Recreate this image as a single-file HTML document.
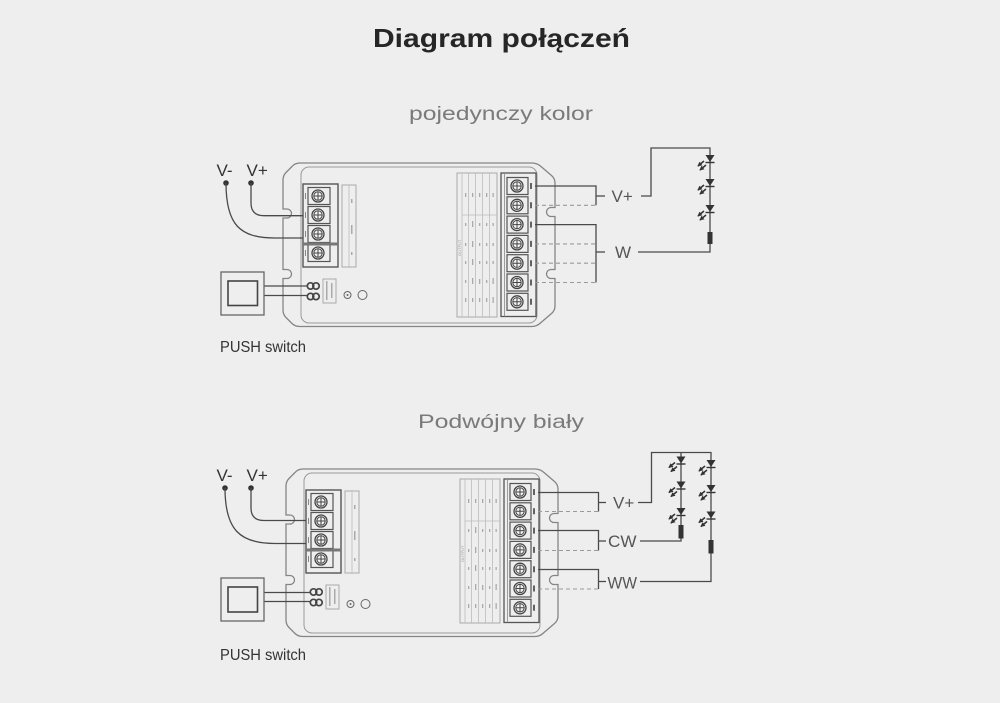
<!DOCTYPE html>
<html>
<head>
<meta charset="utf-8">
<style>
html,body{margin:0;padding:0;background:#eeeeee;}
body{width:1000px;height:703px;overflow:hidden;}
svg{display:block;}
</style>
</head>
<body>
<svg width="1000" height="703" viewBox="0 0 1000 703" xmlns="http://www.w3.org/2000/svg">
<defs>
<marker id="ah" viewBox="0 0 6 6" refX="5" refY="3" markerWidth="3.2" markerHeight="3.2" orient="auto"><path d="M0,0 L6,3 L0,6 Z" fill="#333"/></marker>
</defs>
<rect x="0" y="0" width="1000" height="703" fill="#eeeeee"/>

<!-- Titles -->
<text x="501.5" y="47" text-anchor="middle" font-family="'Liberation Sans', sans-serif" font-weight="bold" font-size="26" fill="#262626" textLength="257" lengthAdjust="spacingAndGlyphs">Diagram połączeń</text>
<text x="501" y="120" text-anchor="middle" font-family="'Liberation Sans', sans-serif" font-size="19" fill="#7a7a7a" textLength="184" lengthAdjust="spacingAndGlyphs">pojedynczy kolor</text>
<text x="501" y="428" text-anchor="middle" font-family="'Liberation Sans', sans-serif" font-size="19" fill="#7a7a7a" textLength="166" lengthAdjust="spacingAndGlyphs">Podwójny biały</text>

<!-- ===================== DIAGRAM 1 ===================== -->
<g id="dev1">
<path d="M300,163 L532,163 Q537,163 541,166.5 L551.5,175.5 Q555,178.5 555,183 L555,207.5 L551,207.5 A4.5,4.5 0 0 0 551,216.5 L555,216.5 L555,269.5 L551,269.5 A4.5,4.5 0 0 0 551,278.5 L555,278.5 L555,306 Q555,310.5 551.5,313.5 L541,322.5 Q537,326.5 532,326.5 L300,326.5 Q295,326.5 292,323.5 L286,317.5 Q283,314.5 283,310 L283,278.5 L287,278.5 A4.5,4.5 0 0 0 287,269.5 L283,269.5 L283,218 L287,218 A4.5,4.5 0 0 0 287,209 L283,209 L283,180 Q283,175.5 286,172.5 L292,166.5 Q295,163 300,163 Z" fill="none" stroke="#858585" stroke-width="1.3"/>
<rect x="301" y="167" width="236" height="156" rx="8" fill="none" stroke="#999" stroke-width="1"/>

<rect x="303" y="184" width="35" height="83" fill="none" stroke="#555" stroke-width="1.4"/>
<g stroke="#555" fill="none" stroke-width="1.2">
<rect x="308" y="187.5" width="22" height="17"/>
<rect x="308" y="206.5" width="22" height="17"/>
<rect x="308" y="225.5" width="22" height="17"/>
<rect x="308" y="244.5" width="22" height="17"/>
</g>
<rect x="303" y="242.5" width="35" height="3" fill="#777"/>
<g stroke="#444" fill="#f3f3f3" stroke-width="1.3">
<circle cx="318" cy="196" r="6"/><circle cx="318" cy="215" r="6"/><circle cx="318" cy="234" r="6"/><circle cx="318" cy="253" r="6"/>
</g>
<g stroke="#444" stroke-width="1" fill="none">
<circle cx="318" cy="196" r="4.2"/><circle cx="318" cy="215" r="4.2"/><circle cx="318" cy="234" r="4.2"/><circle cx="318" cy="253" r="4.2"/>
<path d="M314,196 H322 M318,192 V200 M314,215 H322 M318,211 V219 M314,234 H322 M318,230 V238 M314,253 H322 M318,249 V257"/>
<path d="M305.5,193 V199 M305.5,212 V218 M305.5,231 V237 M305.5,250 V256" stroke="#888"/>
</g>
<rect x="342" y="185" width="14" height="82" fill="none" stroke="#aaa" stroke-width="1"/>
<line x1="349" y1="185" x2="349" y2="267" stroke="#bbb" stroke-width="0.8"/>
<g fill="#aaa"><rect x="351" y="199" width="1.5" height="4"/><rect x="351" y="225" width="1.5" height="9"/><rect x="351" y="252" width="1.5" height="3"/></g>

<g stroke="#444" stroke-width="1.7" fill="none">
<circle cx="310.5" cy="286" r="3.2"/><circle cx="316" cy="286" r="3.2"/>
<circle cx="310.5" cy="296.5" r="3.2"/><circle cx="316" cy="296.5" r="3.2"/>
</g>
<rect x="323" y="279" width="13" height="24" fill="none" stroke="#aaa" stroke-width="1"/>
<g fill="#aaa"><rect x="326" y="281" width="1.5" height="19"/><rect x="331" y="283" width="1.5" height="15"/></g>
<circle cx="347.5" cy="295" r="3.5" fill="none" stroke="#666" stroke-width="1"/>
<circle cx="347.5" cy="295" r="1" fill="#666"/>
<circle cx="362.5" cy="295" r="4.5" fill="none" stroke="#666" stroke-width="1"/>

<rect x="457" y="173" width="40" height="144" fill="none" stroke="#aaa" stroke-width="1"/>
<g stroke="#bbb" stroke-width="0.8">
<line x1="462" y1="173" x2="462" y2="317"/><line x1="468.5" y1="173" x2="468.5" y2="317"/><line x1="475.5" y1="173" x2="475.5" y2="317"/><line x1="482.5" y1="173" x2="482.5" y2="317"/><line x1="489.5" y1="173" x2="489.5" y2="317"/>
<line x1="462" y1="215" x2="497" y2="215"/>
</g>
<text x="0" y="0" transform="translate(461,256) rotate(-90)" font-family="'Liberation Sans', sans-serif" font-size="4" fill="#999">OUTPUT</text>
<g fill="#aaa">
<rect x="465" y="193" width="1.3" height="4"/><rect x="472" y="193" width="1.3" height="4"/><rect x="479" y="193" width="1.3" height="4"/><rect x="486" y="193" width="1.3" height="4"/><rect x="492.5" y="193" width="1.3" height="4"/>
<rect x="465" y="223" width="1.3" height="3"/><rect x="472" y="221" width="1.3" height="6"/><rect x="479" y="223" width="1.3" height="3"/><rect x="486" y="223" width="1.3" height="3"/><rect x="492.5" y="223" width="1.3" height="3"/>
<rect x="465" y="243" width="1.3" height="3"/><rect x="472" y="241" width="1.3" height="6"/><rect x="479" y="243" width="1.3" height="3"/><rect x="486" y="243" width="1.3" height="3"/><rect x="492.5" y="243" width="1.3" height="3"/>
<rect x="465" y="261" width="1.3" height="3"/><rect x="472" y="259" width="1.3" height="6"/><rect x="479" y="261" width="1.3" height="3"/><rect x="486" y="261" width="1.3" height="3"/><rect x="492.5" y="261" width="1.3" height="3"/>
<rect x="465" y="280" width="1.3" height="3"/><rect x="472" y="278" width="1.3" height="6"/><rect x="479" y="279" width="1.3" height="5"/><rect x="486" y="280" width="1.3" height="3"/><rect x="492.5" y="278" width="1.3" height="6"/>
<rect x="465" y="298" width="1.3" height="4"/><rect x="472" y="298" width="1.3" height="4"/><rect x="479" y="298" width="1.3" height="4"/><rect x="486" y="298" width="1.3" height="4"/><rect x="492.5" y="297" width="1.3" height="6"/>
</g>

<rect x="501" y="173" width="35" height="143.5" fill="none" stroke="#555" stroke-width="1.3"/>
<line x1="504.5" y1="173" x2="504.5" y2="316.5" stroke="#888" stroke-width="0.8"/>
<g stroke="#555" fill="none" stroke-width="1.2">
<rect x="507" y="177.5" width="21" height="17"/><rect x="507" y="196.8" width="21" height="17"/><rect x="507" y="216.1" width="21" height="17"/><rect x="507" y="235.4" width="21" height="17"/><rect x="507" y="254.7" width="21" height="17"/><rect x="507" y="274" width="21" height="17"/><rect x="507" y="293.3" width="21" height="17"/>
</g>
<g stroke="#444" fill="#f3f3f3" stroke-width="1.3">
<circle cx="517" cy="186" r="6"/><circle cx="517" cy="205.3" r="6"/><circle cx="517" cy="224.6" r="6"/><circle cx="517" cy="243.9" r="6"/><circle cx="517" cy="263.2" r="6"/><circle cx="517" cy="282.5" r="6"/><circle cx="517" cy="301.8" r="6"/>
</g>
<g stroke="#444" stroke-width="1" fill="none">
<circle cx="517" cy="186" r="4.2"/><circle cx="517" cy="205.3" r="4.2"/><circle cx="517" cy="224.6" r="4.2"/><circle cx="517" cy="243.9" r="4.2"/><circle cx="517" cy="263.2" r="4.2"/><circle cx="517" cy="282.5" r="4.2"/><circle cx="517" cy="301.8" r="4.2"/>
<path d="M513,186 H521 M517,182 V190 M513,205.3 H521 M517,201.3 V209.3 M513,224.6 H521 M517,220.6 V228.6 M513,243.9 H521 M517,239.9 V247.9 M513,263.2 H521 M517,259.2 V267.2 M513,282.5 H521 M517,278.5 V286.5 M513,301.8 H521 M517,297.8 V305.8"/>
</g>
<g stroke="#333" stroke-width="1.5">
<path d="M531,183 V189 M531,202.3 V208.3 M531,221.6 V227.6 M531,240.9 V246.9 M531,260.2 V266.2 M531,279.5 V285.5 M531,298.8 V304.8"/>
</g>
</g>

<!-- D1 external wiring -->
<text x="216.5" y="176" font-family="'Liberation Sans', sans-serif" font-size="17" fill="#333">V-</text>
<text x="246.5" y="176" font-family="'Liberation Sans', sans-serif" font-size="17" fill="#333">V+</text>
<circle cx="226" cy="183" r="2.8" fill="#333"/>
<circle cx="251" cy="183" r="2.8" fill="#333"/>
<g stroke="#4a4a4a" stroke-width="1.3" fill="none">
<path d="M251,183 L251,203 Q251,215.7 264,215.7 L303,215.7"/>
<path d="M226,183 C226,225 240,238 275,238 L303,238"/>
<path d="M264,286 L307,286 M264,295.5 L307,295.5"/>
</g>
<rect x="221" y="272" width="43" height="43" fill="none" stroke="#666" stroke-width="1.3"/>
<rect x="228" y="281" width="29.5" height="24.5" fill="none" stroke="#444" stroke-width="1.6"/>
<text x="220" y="352" font-family="'Liberation Sans', sans-serif" font-size="15.5" fill="#333" textLength="86" lengthAdjust="spacingAndGlyphs">PUSH switch</text>

<g stroke="#4a4a4a" stroke-width="1.3" fill="none">
<path d="M535,186 L596,186 L596,205.3"/>
<path d="M596,196 L605,196"/>
<path d="M641,196 L651,196 L651,148 L710,148 L710,252 L638,252"/>
<path d="M535,224.6 L596,224.6 L596,282.5"/>
<path d="M596,252 L605,252"/>
</g>
<g stroke="#9a9a9a" stroke-width="1.1" stroke-dasharray="4,3" fill="none">
<path d="M535,205.3 L596,205.3 M535,243.9 L596,243.9 M535,263.2 L596,263.2 M535,282.5 L596,282.5"/>
</g>
<text x="611.5" y="202" font-family="'Liberation Sans', sans-serif" font-size="17" fill="#555">V+</text>
<text x="615" y="258" font-family="'Liberation Sans', sans-serif" font-size="17" fill="#555">W</text>

<!-- D1 LEDs -->
<g transform="translate(710,155)">
<path d="M-4.5,0 L4.5,0 L0,7 Z" fill="#333"/><line x1="-4.5" y1="7.5" x2="4.5" y2="7.5" stroke="#333" stroke-width="1.4"/>
<line x1="-6" y1="6" x2="-12" y2="11" stroke="#333" stroke-width="1.5" marker-end="url(#ah)"/><line x1="-4" y1="10" x2="-10" y2="15" stroke="#333" stroke-width="1.5" marker-end="url(#ah)"/>
</g>
<g transform="translate(710,179)">
<path d="M-4.5,0 L4.5,0 L0,7 Z" fill="#333"/><line x1="-4.5" y1="7.5" x2="4.5" y2="7.5" stroke="#333" stroke-width="1.4"/>
<line x1="-6" y1="6" x2="-12" y2="11" stroke="#333" stroke-width="1.5" marker-end="url(#ah)"/><line x1="-4" y1="10" x2="-10" y2="15" stroke="#333" stroke-width="1.5" marker-end="url(#ah)"/>
</g>
<g transform="translate(710,205)">
<path d="M-4.5,0 L4.5,0 L0,7 Z" fill="#333"/><line x1="-4.5" y1="7.5" x2="4.5" y2="7.5" stroke="#333" stroke-width="1.4"/>
<line x1="-6" y1="6" x2="-12" y2="11" stroke="#333" stroke-width="1.5" marker-end="url(#ah)"/><line x1="-4" y1="10" x2="-10" y2="15" stroke="#333" stroke-width="1.5" marker-end="url(#ah)"/>
</g>
<rect x="707.5" y="232" width="5" height="12" fill="#333"/>

<!-- ===================== DIAGRAM 2 ===================== -->
<g transform="translate(3,306)">
<path d="M300,163 L532,163 Q537,163 541,166.5 L551.5,175.5 Q555,178.5 555,183 L555,207.5 L551,207.5 A4.5,4.5 0 0 0 551,216.5 L555,216.5 L555,269.5 L551,269.5 A4.5,4.5 0 0 0 551,278.5 L555,278.5 L555,310 Q555,314.5 551.5,317.5 L541,326.5 Q537,330.5 532,330.5 L300,330.5 Q295,330.5 292,327.5 L286,321.5 Q283,318.5 283,314 L283,278.5 L287,278.5 A4.5,4.5 0 0 0 287,269.5 L283,269.5 L283,218 L287,218 A4.5,4.5 0 0 0 287,209 L283,209 L283,180 Q283,175.5 286,172.5 L292,166.5 Q295,163 300,163 Z" fill="none" stroke="#858585" stroke-width="1.3"/>
<rect x="301" y="167" width="236" height="160" rx="8" fill="none" stroke="#999" stroke-width="1"/>

<rect x="303" y="184" width="35" height="83" fill="none" stroke="#555" stroke-width="1.4"/>
<g stroke="#555" fill="none" stroke-width="1.2">
<rect x="308" y="187.5" width="22" height="17"/>
<rect x="308" y="206.5" width="22" height="17"/>
<rect x="308" y="225.5" width="22" height="17"/>
<rect x="308" y="244.5" width="22" height="17"/>
</g>
<rect x="303" y="242.5" width="35" height="3" fill="#777"/>
<g stroke="#444" fill="#f3f3f3" stroke-width="1.3">
<circle cx="318" cy="196" r="6"/><circle cx="318" cy="215" r="6"/><circle cx="318" cy="234" r="6"/><circle cx="318" cy="253" r="6"/>
</g>
<g stroke="#444" stroke-width="1" fill="none">
<circle cx="318" cy="196" r="4.2"/><circle cx="318" cy="215" r="4.2"/><circle cx="318" cy="234" r="4.2"/><circle cx="318" cy="253" r="4.2"/>
<path d="M314,196 H322 M318,192 V200 M314,215 H322 M318,211 V219 M314,234 H322 M318,230 V238 M314,253 H322 M318,249 V257"/>
<path d="M305.5,193 V199 M305.5,212 V218 M305.5,231 V237 M305.5,250 V256" stroke="#888"/>
</g>
<rect x="342" y="185" width="14" height="82" fill="none" stroke="#aaa" stroke-width="1"/>
<line x1="349" y1="185" x2="349" y2="267" stroke="#bbb" stroke-width="0.8"/>
<g fill="#aaa"><rect x="351" y="199" width="1.5" height="4"/><rect x="351" y="225" width="1.5" height="9"/><rect x="351" y="252" width="1.5" height="3"/></g>

<g stroke="#444" stroke-width="1.7" fill="none">
<circle cx="310.5" cy="286" r="3.2"/><circle cx="316" cy="286" r="3.2"/>
<circle cx="310.5" cy="296.5" r="3.2"/><circle cx="316" cy="296.5" r="3.2"/>
</g>
<rect x="323" y="279" width="13" height="24" fill="none" stroke="#aaa" stroke-width="1"/>
<g fill="#aaa"><rect x="326" y="281" width="1.5" height="19"/><rect x="331" y="283" width="1.5" height="15"/></g>
<circle cx="347.5" cy="298" r="3.5" fill="none" stroke="#666" stroke-width="1"/>
<circle cx="347.5" cy="298" r="1" fill="#666"/>
<circle cx="362.5" cy="298" r="4.5" fill="none" stroke="#666" stroke-width="1"/>

<rect x="457" y="173" width="40" height="144" fill="none" stroke="#aaa" stroke-width="1"/>
<g stroke="#bbb" stroke-width="0.8">
<line x1="462" y1="173" x2="462" y2="317"/><line x1="468.5" y1="173" x2="468.5" y2="317"/><line x1="475.5" y1="173" x2="475.5" y2="317"/><line x1="482.5" y1="173" x2="482.5" y2="317"/><line x1="489.5" y1="173" x2="489.5" y2="317"/>
<line x1="462" y1="215" x2="497" y2="215"/>
</g>
<text x="0" y="0" transform="translate(461,256) rotate(-90)" font-family="'Liberation Sans', sans-serif" font-size="4" fill="#999">OUTPUT</text>
<g fill="#aaa">
<rect x="465" y="193" width="1.3" height="4"/><rect x="472" y="193" width="1.3" height="4"/><rect x="479" y="193" width="1.3" height="4"/><rect x="486" y="193" width="1.3" height="4"/><rect x="492.5" y="193" width="1.3" height="4"/>
<rect x="465" y="223" width="1.3" height="3"/><rect x="472" y="221" width="1.3" height="6"/><rect x="479" y="223" width="1.3" height="3"/><rect x="486" y="223" width="1.3" height="3"/><rect x="492.5" y="223" width="1.3" height="3"/>
<rect x="465" y="243" width="1.3" height="3"/><rect x="472" y="241" width="1.3" height="6"/><rect x="479" y="243" width="1.3" height="3"/><rect x="486" y="243" width="1.3" height="3"/><rect x="492.5" y="243" width="1.3" height="3"/>
<rect x="465" y="261" width="1.3" height="3"/><rect x="472" y="259" width="1.3" height="6"/><rect x="479" y="261" width="1.3" height="3"/><rect x="486" y="261" width="1.3" height="3"/><rect x="492.5" y="261" width="1.3" height="3"/>
<rect x="465" y="280" width="1.3" height="3"/><rect x="472" y="278" width="1.3" height="6"/><rect x="479" y="279" width="1.3" height="5"/><rect x="486" y="280" width="1.3" height="3"/><rect x="492.5" y="278" width="1.3" height="6"/>
<rect x="465" y="298" width="1.3" height="4"/><rect x="472" y="298" width="1.3" height="4"/><rect x="479" y="298" width="1.3" height="4"/><rect x="486" y="298" width="1.3" height="4"/><rect x="492.5" y="297" width="1.3" height="6"/>
</g>

<rect x="501" y="173" width="35" height="143.5" fill="none" stroke="#555" stroke-width="1.3"/>
<line x1="504.5" y1="173" x2="504.5" y2="316.5" stroke="#888" stroke-width="0.8"/>
<g stroke="#555" fill="none" stroke-width="1.2">
<rect x="507" y="177.5" width="21" height="17"/><rect x="507" y="196.8" width="21" height="17"/><rect x="507" y="216.1" width="21" height="17"/><rect x="507" y="235.4" width="21" height="17"/><rect x="507" y="254.7" width="21" height="17"/><rect x="507" y="274" width="21" height="17"/><rect x="507" y="293.3" width="21" height="17"/>
</g>
<g stroke="#444" fill="#f3f3f3" stroke-width="1.3">
<circle cx="517" cy="186" r="6"/><circle cx="517" cy="205.3" r="6"/><circle cx="517" cy="224.6" r="6"/><circle cx="517" cy="243.9" r="6"/><circle cx="517" cy="263.2" r="6"/><circle cx="517" cy="282.5" r="6"/><circle cx="517" cy="301.8" r="6"/>
</g>
<g stroke="#444" stroke-width="1" fill="none">
<circle cx="517" cy="186" r="4.2"/><circle cx="517" cy="205.3" r="4.2"/><circle cx="517" cy="224.6" r="4.2"/><circle cx="517" cy="243.9" r="4.2"/><circle cx="517" cy="263.2" r="4.2"/><circle cx="517" cy="282.5" r="4.2"/><circle cx="517" cy="301.8" r="4.2"/>
<path d="M513,186 H521 M517,182 V190 M513,205.3 H521 M517,201.3 V209.3 M513,224.6 H521 M517,220.6 V228.6 M513,243.9 H521 M517,239.9 V247.9 M513,263.2 H521 M517,259.2 V267.2 M513,282.5 H521 M517,278.5 V286.5 M513,301.8 H521 M517,297.8 V305.8"/>
</g>
<g stroke="#333" stroke-width="1.5">
<path d="M531,183 V189 M531,202.3 V208.3 M531,221.6 V227.6 M531,240.9 V246.9 M531,260.2 V266.2 M531,279.5 V285.5 M531,298.8 V304.8"/>
</g>
</g>

<!-- D2 external wiring -->
<text x="216.5" y="481" font-family="'Liberation Sans', sans-serif" font-size="17" fill="#333">V-</text>
<text x="246.5" y="481" font-family="'Liberation Sans', sans-serif" font-size="17" fill="#333">V+</text>
<circle cx="225" cy="488" r="2.8" fill="#333"/>
<circle cx="251" cy="488" r="2.8" fill="#333"/>
<g stroke="#4a4a4a" stroke-width="1.3" fill="none">
<path d="M251,488 L251,508 Q251,520.5 264,520.5 L306,520.5"/>
<path d="M225,488 C225,530 240,543.5 275,543.5 L306,543.5"/>
<path d="M264,592.5 L310,592.5 M264,601.5 L310,601.5"/>
</g>
<rect x="221" y="578" width="43" height="43" fill="none" stroke="#666" stroke-width="1.3"/>
<rect x="228" y="587" width="29.5" height="25" fill="none" stroke="#444" stroke-width="1.6"/>
<text x="220" y="660" font-family="'Liberation Sans', sans-serif" font-size="15.5" fill="#333" textLength="86" lengthAdjust="spacingAndGlyphs">PUSH switch</text>

<g stroke="#4a4a4a" stroke-width="1.3" fill="none">
<path d="M538,492.5 L598.5,492.5 L598.5,511.5"/>
<path d="M598.5,502.5 L606,502.5"/>
<path d="M638,502.5 L651.5,502.5 L651.5,452.5 L711,452.5 L711,581.5 L640,581.5"/>
<path d="M681,452.5 L681,541 L640,541"/>
<path d="M538,530.5 L598.5,530.5 L598.5,550.5"/>
<path d="M598.5,541 L606,541"/>
<path d="M538,569.5 L598.5,569.5 L598.5,589"/>
<path d="M598.5,581.5 L606,581.5"/>
</g>
<g stroke="#9a9a9a" stroke-width="1.1" stroke-dasharray="4,3" fill="none">
<path d="M538,511.5 L598.5,511.5 M538,550.5 L598.5,550.5 M538,589 L598.5,589"/>
</g>
<text x="613" y="508.5" font-family="'Liberation Sans', sans-serif" font-size="17" fill="#555">V+</text>
<text x="608" y="547" font-family="'Liberation Sans', sans-serif" font-size="17" fill="#555" textLength="28.5" lengthAdjust="spacingAndGlyphs">CW</text>
<text x="607.5" y="588.5" font-family="'Liberation Sans', sans-serif" font-size="17" fill="#555" textLength="29.5" lengthAdjust="spacingAndGlyphs">WW</text>

<!-- D2 LEDs chain 1 -->
<g transform="translate(681,456.5)">
<path d="M-4.5,0 L4.5,0 L0,7 Z" fill="#333"/><line x1="-4.5" y1="7.5" x2="4.5" y2="7.5" stroke="#333" stroke-width="1.4"/>
<line x1="-6" y1="6" x2="-12" y2="11" stroke="#333" stroke-width="1.5" marker-end="url(#ah)"/><line x1="-4" y1="10" x2="-10" y2="15" stroke="#333" stroke-width="1.5" marker-end="url(#ah)"/>
</g>
<g transform="translate(681,481.5)">
<path d="M-4.5,0 L4.5,0 L0,7 Z" fill="#333"/><line x1="-4.5" y1="7.5" x2="4.5" y2="7.5" stroke="#333" stroke-width="1.4"/>
<line x1="-6" y1="6" x2="-12" y2="11" stroke="#333" stroke-width="1.5" marker-end="url(#ah)"/><line x1="-4" y1="10" x2="-10" y2="15" stroke="#333" stroke-width="1.5" marker-end="url(#ah)"/>
</g>
<g transform="translate(681,508)">
<path d="M-4.5,0 L4.5,0 L0,7 Z" fill="#333"/><line x1="-4.5" y1="7.5" x2="4.5" y2="7.5" stroke="#333" stroke-width="1.4"/>
<line x1="-6" y1="6" x2="-12" y2="11" stroke="#333" stroke-width="1.5" marker-end="url(#ah)"/><line x1="-4" y1="10" x2="-10" y2="15" stroke="#333" stroke-width="1.5" marker-end="url(#ah)"/>
</g>
<rect x="678.5" y="525" width="5" height="13.5" fill="#333"/>

<!-- D2 LEDs chain 2 -->
<g transform="translate(711,460)">
<path d="M-4.5,0 L4.5,0 L0,7 Z" fill="#333"/><line x1="-4.5" y1="7.5" x2="4.5" y2="7.5" stroke="#333" stroke-width="1.4"/>
<line x1="-6" y1="6" x2="-12" y2="11" stroke="#333" stroke-width="1.5" marker-end="url(#ah)"/><line x1="-4" y1="10" x2="-10" y2="15" stroke="#333" stroke-width="1.5" marker-end="url(#ah)"/>
</g>
<g transform="translate(711,485)">
<path d="M-4.5,0 L4.5,0 L0,7 Z" fill="#333"/><line x1="-4.5" y1="7.5" x2="4.5" y2="7.5" stroke="#333" stroke-width="1.4"/>
<line x1="-6" y1="6" x2="-12" y2="11" stroke="#333" stroke-width="1.5" marker-end="url(#ah)"/><line x1="-4" y1="10" x2="-10" y2="15" stroke="#333" stroke-width="1.5" marker-end="url(#ah)"/>
</g>
<g transform="translate(711,511.5)">
<path d="M-4.5,0 L4.5,0 L0,7 Z" fill="#333"/><line x1="-4.5" y1="7.5" x2="4.5" y2="7.5" stroke="#333" stroke-width="1.4"/>
<line x1="-6" y1="6" x2="-12" y2="11" stroke="#333" stroke-width="1.5" marker-end="url(#ah)"/><line x1="-4" y1="10" x2="-10" y2="15" stroke="#333" stroke-width="1.5" marker-end="url(#ah)"/>
</g>
<rect x="708.5" y="540" width="5" height="13.5" fill="#333"/>
</svg>
</body>
</html>
